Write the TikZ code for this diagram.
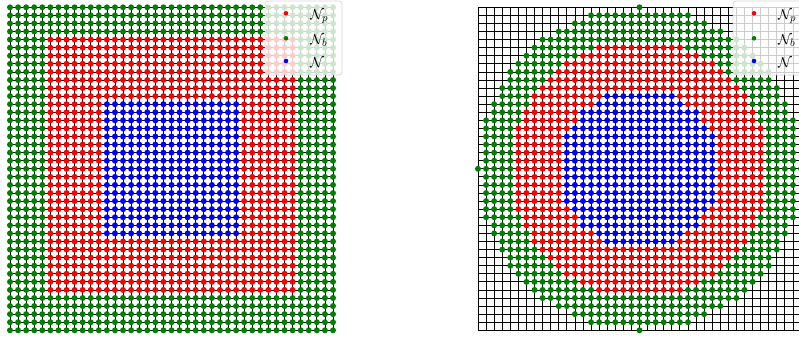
\documentclass[tikz,border=0pt]{standalone}
\usepackage{tikz}
\definecolor{PtRed}{HTML}{FF0000}
\definecolor{PtGreen}{HTML}{008000}
\definecolor{PtBlue}{HTML}{0000FF}
\newcommand\gap{8.075}

\begin{document}
\begin{tikzpicture}[x=1pt,y=-1pt]
  \tikzset{
    gridline/.style={line width=.8pt,draw=black},
    ptp/.style={fill=PtRed},
    ptb/.style={fill=PtGreen},
    ptn/.style={fill=PtBlue},
    legbox/.style={draw=black!20,fill=white,fill opacity=.8,draw opacity=.8,
      rounded corners=3pt,line width=.8pt},
    legtext/.style={anchor=base west,inner sep=0pt,font=\fontsize{15}{18}\selectfont}
  }
  \useasboundingbox (0,0) rectangle (799,337);
  \clip (0,0) rectangle (799,337);
  % grid lines of both panels
  \foreach \dx in {10,478}{
    \foreach \k in {0,...,40}{
      \draw[gridline] ({\dx+\k*\gap},7.3) -- ({\dx+\k*\gap},{7.3+40*\gap});
      \draw[gridline] (\dx,{7.3+\k*\gap}) -- ({\dx+40*\gap},{7.3+\k*\gap});
    }
  }
  % left panel: square bands
  \foreach \i in {0,...,40}{
    \foreach \j in {0,...,40}{
      \pgfmathtruncatemacro\edge{or(or(\i<5,\i>35),or(\j<4,\j>35))}
      \pgfmathtruncatemacro\core{and(and(\i>11,\i<29),and(\j>11,\j<29))}
      \ifnum\edge=1 \def\kind{ptb}\else\ifnum\core=1 \def\kind{ptn}\else\def\kind{ptp}\fi\fi
      \fill[\kind] ({10+\i*\gap},{7.3+\j*\gap}) circle (3pt);
    }
  }
  % right panel: discs
  \foreach \i in {0,...,40}{
    \foreach \j in {0,...,40}{
      \pgfmathtruncatemacro\dd{(\i-20)*(\i-20)+(\j-20)*(\j-20)}
      \ifnum\dd<401
        \ifnum\dd<100 \def\kind{ptn}\else\ifnum\dd<256 \def\kind{ptp}\else\def\kind{ptb}\fi\fi
        \fill[\kind] ({478+\i*\gap},{7.3+\j*\gap}) circle (3pt);
      \fi
    }
  }
  % legends
  \foreach \dx in {0,468}{
    \draw[legbox] ({265+\dx},1) rectangle ({342+\dx},75);
    \fill[ptp] ({286+\dx},13.3) circle (2.3pt);
    \fill[ptb] ({286+\dx},38.3) circle (2.3pt);
    \fill[ptn] ({286+\dx},61) circle (2.3pt);
    \node[legtext] (np\dx) at ({310+\dx},19.5) {$\mathcal{N}_p$};
    \node[legtext] (nb\dx) at ({310+\dx},44.3) {$\mathcal{N}_b$};
    \node[legtext] (nn\dx) at ({310+\dx},67) {$\mathcal{N}$};
  }
\end{tikzpicture}
\end{document}
